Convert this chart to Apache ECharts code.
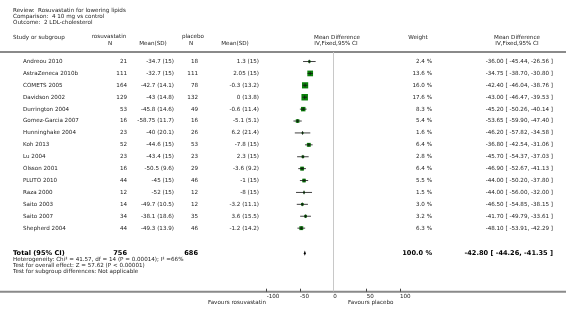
<!DOCTYPE html>
<html><head><meta charset="utf-8">
<script src="https://cdn.jsdelivr.net/npm/echarts@6/dist/echarts.min.js"></script>
<style>html,body{margin:0;padding:0;background:#fff}#c{width:566px;height:313px}</style>
</head><body><div id="c"></div>
<script>
var studies = ['Andreou 2010','AstraZeneca 2010b','COMETS 2005','Davidson 2002','Durrington 2004','Gomez-Garcia 2007','Hunninghake 2004','Koh 2013','Lu 2004','Olsson 2001','PLUTO 2010','Raza 2000','Saito 2003','Saito 2007','Shepherd 2004'];
var rosuN = [21,111,164,129,53,16,23,52,23,16,44,12,14,34,44];
var rosuMeanSD = ['-34.7 (15)','-32.7 (15)','-42.7 (14.1)','-43 (14.8)','-45.8 (14.6)','-58.75 (11.7)','-40 (20.1)','-44.6 (15)','-43.4 (15)','-50.5 (9.6)','-45 (15)','-52 (15)','-49.7 (10.5)','-38.1 (18.6)','-49.3 (13.9)'];
var placN = [18,111,78,132,49,16,26,53,23,29,46,12,12,35,46];
var placMeanSD = ['1.3 (15)','2.05 (15)','-0.3 (13.2)','0 (13.8)','-0.6 (11.4)','-5.1 (5.1)','6.2 (21.4)','-7.8 (15)','2.3 (15)','-3.6 (9.2)','-1 (15)','-8 (15)','-3.2 (11.1)','3.6 (15.5)','-1.2 (14.2)'];
var weights = [2.4,13.6,16.0,17.6,8.3,5.4,1.6,6.4,2.8,6.4,5.5,1.5,3.0,3.2,6.3];
var md = [-36.00,-34.75,-42.40,-43.00,-45.20,-53.65,-46.20,-36.80,-45.70,-46.90,-44.00,-44.00,-46.50,-41.70,-48.10];
var lo = [-45.44,-38.70,-46.04,-46.47,-50.26,-59.90,-57.82,-42.54,-54.37,-52.67,-50.20,-56.00,-54.85,-49.79,-53.91];
var hi = [-26.56,-30.80,-38.76,-39.53,-40.14,-47.40,-34.58,-31.06,-37.03,-41.13,-37.80,-32.00,-38.15,-33.61,-42.29];
var total = {label:'Total (95% CI)', rosuN:756, placN:686, weight:100.0, md:-42.80, lo:-44.26, hi:-41.35};
var titleLines = ['Review:  Rosuvastatin for lowering lipids','Comparison:  4 10 mg vs control','Outcome:  2 LDL-cholesterol'];
var footLines = ['Heterogeneity: Chi\u00b2 = 41.57, df = 14 (P = 0.00014); I\u00b2 =66%','Test for overall effect: Z = 57.62 (P < 0.00001)','Test for subgroup differences: Not applicable'];
var xTicks = [-100,-50,0,50,100];
var favLeft = 'Favours rosuvastatin', favRight = 'Favours placebo';

var FF = 'DejaVu Sans', FS = 5.6, TC = '#222';
var totalRow = 16.1;
var chart = echarts.init(document.getElementById('c'), null, {renderer:'canvas'});

var studyData = studies.map(function(s,i){ return [md[i], lo[i], hi[i], weights[i], i]; });

chart.setOption({
  animation:false,
  grid:{left:266.7, width:133.3, top:52, height:239.7},
  xAxis:{type:'value', min:xTicks[0], max:xTicks[xTicks.length-1], interval:50, position:'bottom',
    axisLine:{show:false, onZero:false}, splitLine:{show:false},
    axisTick:{show:true, inside:true, length:3, lineStyle:{color:'#444'}},
    axisLabel:{show:true, align:'left', margin:2, fontFamily:FF, fontSize:FS, color:TC}},
  yAxis:{type:'value', inverse:true, min:-0.8, max:19.34, show:false},
  series:[
    {type:'custom', name:'studies', data:studyData,
     renderItem:function(params, api){
       var m = api.coord([api.value(0), api.value(4)]);
       var l = api.coord([api.value(1), api.value(4)]);
       var h = api.coord([api.value(2), api.value(4)]);
       var s = 1.55*Math.sqrt(api.value(3));
       return {type:'group', children:[
         {type:'rect', shape:{x:m[0]-s/2, y:m[1]-s/2, width:s, height:s}, style:{fill:'#0a820a'}},
         {type:'line', shape:{x1:l[0], y1:m[1], x2:h[0], y2:m[1]}, style:{stroke:'#111', lineWidth:0.8}},
         {type:'line', shape:{x1:m[0], y1:m[1]-1.8, x2:m[0], y2:m[1]+1.8}, style:{stroke:'#111', lineWidth:0.8}}
       ]};
     },
     markLine:{silent:true, symbol:'none', label:{show:false}, lineStyle:{color:'#c8c8c8', width:1, type:'solid'}, data:[{xAxis:0}]}
    },
    {type:'custom', name:'total', data:[[total.md, total.lo, total.hi, totalRow]],
     renderItem:function(params, api){
       var m = api.coord([api.value(0), api.value(3)]);
       var l = api.coord([api.value(1), api.value(3)]);
       var h = api.coord([api.value(2), api.value(3)]);
       return {type:'polygon', shape:{points:[[l[0],m[1]],[m[0],m[1]-2.6],[h[0],m[1]],[m[0],m[1]+2.6]]}, style:{fill:'#000'}};
     }}
  ]
});

function rowY(i){ return chart.convertToPixel({yAxisIndex:0}, i); }
function txt(x,y,t,align,opt){
  opt = opt||{};
  return {type:'text', x:x, y:y, silent:true, style:{text:t, align:align||'left', verticalAlign:'middle',
    font:(opt.bold?'bold ':'')+(opt.size||FS)+'px "'+FF+'"', fill:opt.color||TC}};
}
var g = [];
g.push({type:'line', shape:{x1:0,y1:52,x2:566,y2:52}, style:{stroke:'#8a8a8a', lineWidth:2}});
g.push({type:'line', shape:{x1:0,y1:291.7,x2:566,y2:291.7}, style:{stroke:'#8a8a8a', lineWidth:2}});
titleLines.forEach(function(t,i){ g.push(txt(13, 11+i*6, t)); });
g.push(txt(13,38,'Study or subgroup'));
g.push(txt(109,37,'rosuvastatin','center'));
g.push(txt(110,44,'N','center'));
g.push(txt(153,44,'Mean(SD)','center'));
g.push(txt(193,37,'placebo','center'));
g.push(txt(191,44,'N','center'));
g.push(txt(235,44,'Mean(SD)','center'));
g.push(txt(337,38,'Mean Difference','center'));
g.push(txt(336,44,'IV,Fixed,95% CI','center'));
g.push(txt(418,38,'Weight','center'));
g.push(txt(517,38,'Mean Difference','center'));
g.push(txt(517,44,'IV,Fixed,95% CI','center'));
studies.forEach(function(s,i){
  var y = rowY(i);
  g.push(txt(23,y,s));
  g.push(txt(127,y,String(rosuN[i]),'right'));
  g.push(txt(174,y,rosuMeanSD[i],'right'));
  g.push(txt(198,y,String(placN[i]),'right'));
  g.push(txt(259,y,placMeanSD[i],'right'));
  g.push(txt(432,y,weights[i].toFixed(1)+' %','right'));
  g.push(txt(553,y,md[i].toFixed(2)+' [ '+lo[i].toFixed(2)+', '+hi[i].toFixed(2)+' ]','right'));
});
var ty = rowY(totalRow);
var B = {bold:true,size:6.6,color:'#000'};
g.push(txt(13,ty,total.label,'left',B));
g.push(txt(127,ty,String(total.rosuN),'right',B));
g.push(txt(198,ty,String(total.placN),'right',B));
g.push(txt(432,ty,total.weight.toFixed(1)+' %','right',B));
g.push(txt(553,ty,total.md.toFixed(2)+' [ '+total.lo.toFixed(2)+', '+total.hi.toFixed(2)+' ]','right',B));
footLines.forEach(function(t,i){ g.push(txt(13, 259.5+i*6, t)); });
g.push(txt(266,303,favLeft,'right'));
g.push(txt(348,303,favRight,'left'));
chart.setOption({graphic:{elements:g}});
</script></body></html>
